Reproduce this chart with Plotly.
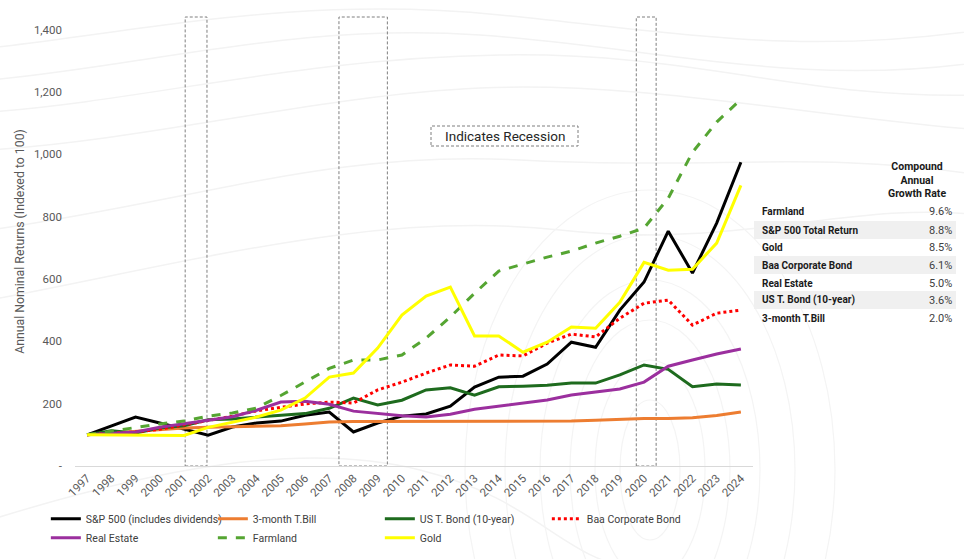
import plotly.graph_objects as go

# years on the x axis
years = list(range(1997, 2025))

# index values (1997 = 100)
sp500 = [100, 128, 157, 138, 118, 99, 125, 138, 144, 163, 173, 109, 138, 160, 167, 192,
         253, 285, 288, 327, 397, 381, 500, 590, 753, 619, 779, 974]
tbill = [100, 105, 110, 116, 122, 124, 125, 126, 129, 135, 141, 143, 143, 143, 143, 143,
         143, 143, 143, 143, 144, 147, 150, 152, 152, 155, 162, 173]
tbond = [100, 113, 106, 122, 129, 148, 151, 157, 162, 168, 185, 218, 196, 211, 244, 251,
         227, 254, 256, 259, 266, 266, 292, 324, 310, 254, 263, 260]
baa = [100, 106, 109, 118, 132, 146, 160, 177, 189, 199, 205, 202, 244, 269, 298, 324,
       320, 356, 353, 394, 423, 414, 474, 522, 532, 452, 490, 500]
real_estate = [100, 105, 109, 124, 135, 147, 158, 179, 205, 208, 198, 176, 169, 161, 157, 166,
               182, 192, 201, 212, 228, 237, 247, 269, 320, 340, 359, 375]
farmland = [100, 112, 122, 135, 144, 160, 170, 186, 226, 269, 313, 340, 340, 356, 410, 478,
            554, 625, 647, 670, 689, 715, 737, 763, 859, 1006, 1103, 1176]
gold = [100, 99, 99, 97, 98, 124, 141, 157, 179, 218, 285, 298, 378, 484, 545, 574,
        417, 417, 365, 397, 446, 442, 525, 653, 628, 631, 715, 900]

# recession periods (start, end) in year units
recessions = [(2001.05, 2001.95), (2007.4, 2009.4), (2019.68, 2020.5)]

# compound annual growth rate table
cagr_names = ["Farmland", "S&P 500 Total Return", "Gold", "Baa Corporate Bond",
              "Real Estate", "US T. Bond (10-year)", "3-month T.Bill"]
cagr_values = ["9.6%", "8.8%", "8.5%", "6.1%", "5.0%", "3.6%", "2.0%"]

series = [
    ("S&P 500 (includes dividends)", sp500, "#000000", "solid"),
    ("3-month T.Bill", tbill, "#ED7D31", "solid"),
    ("US T. Bond (10-year)", tbond, "#1E6B1E", "solid"),
    ("Baa Corporate Bond", baa, "#FF0000", "dot"),
    ("Real Estate", real_estate, "#9B2F9E", "solid"),
    ("Farmland", farmland, "#55A532", "dash"),
    ("Gold", gold, "#FFFF00", "solid"),
]

# plot area in pixels (for placing the side table)
L, R, T, B = 75, 753, 17, 466


def px_x(p):
    return (p - L) / (R - L)


def px_y(p):
    return (B - p) / (B - T)


def px_path(cmds):
    # cmds: list of (letter, [x, y, x, y, ...]) in pixels -> svg path in paper units
    out = []
    for letter, pts in cmds:
        xy = []
        for k in range(0, len(pts), 2):
            xy.append("%.4f,%.4f" % (px_x(pts[k]), px_y(pts[k + 1])))
        out.append(letter + " " + " ".join(xy))
    return " ".join(out)


fig = go.Figure()
for name, vals, color, dash in series:
    fig.add_trace(go.Scatter(
        x=years, y=vals, name=name, mode="lines",
        line=dict(color=color, width=3, dash=dash),
    ))

shapes = []

# faint background waves
waves = [
    [("M", [-10, 48]), ("C", [150, 30, 300, -5, 500, 15]), ("S", [800, 55, 980, 30])],
    [("M", [-10, 80]), ("C", [150, 65, 300, 22, 480, 35]), ("S", [800, 88, 980, 62])],
    [("M", [-10, 112]), ("C", [150, 100, 300, 58, 500, 55]), ("S", [800, 100, 980, 95])],
    [("M", [-10, 150]), ("C", [150, 140, 320, 95, 480, 88]), ("S", [800, 115, 980, 130])],
    [("M", [-10, 230]), ("C", [200, 200, 330, 150, 520, 160]), ("S", [820, 150, 980, 175])],
    [("M", [-10, 300]), ("C", [200, 260, 380, 210, 560, 230]), ("S", [850, 200, 980, 215])],
    [("M", [-10, 520]), ("C", [150, 470, 300, 440, 420, 470]), ("S", [560, 559, 640, 570])],
]
for w in waves:
    shapes.append(dict(type="path", xref="paper", yref="paper", path=px_path(w),
                       line=dict(color="#F3F3F3", width=1.5), layer="below"))
for rx, ry in [(30, 70), (55, 110), (80, 150), (110, 190), (145, 235), (185, 280)]:
    shapes.append(dict(type="circle", xref="paper", yref="paper",
                       x0=px_x(650 - rx), x1=px_x(650 + rx),
                       y0=px_y(470 + ry), y1=px_y(470 - ry),
                       line=dict(color="#F4F4F4", width=1.2), layer="below"))

box_line = dict(color="#7F7F7F", width=1, dash="3px,2px")
for x0, x1 in recessions:
    shapes.append(dict(type="rect", xref="x", yref="paper", x0=x0, x1=x1, y0=0, y1=1,
                       line=box_line, fillcolor="rgba(0,0,0,0)", layer="below"))

# "Indicates Recession" box
shapes.append(dict(type="rect", xref="paper", yref="paper",
                   x0=px_x(431), x1=px_x(578), y0=px_y(146), y1=px_y(126),
                   line=box_line, fillcolor="white"))

annotations = [dict(text="Indicates Recession", xref="paper", yref="paper",
                    x=px_x(504.5), y=px_y(135.5), xanchor="center", yanchor="middle",
                    showarrow=False, font=dict(size=13.5, color="#262626"))]

# CAGR table
annotations.append(dict(text="<b>Compound<br>Annual<br>Growth Rate</b>", xref="paper", yref="paper",
                        x=px_x(917), y=px_y(180), xanchor="center", yanchor="middle",
                        showarrow=False, align="center",
                        font=dict(size=10.5, color="#1a1a1a")))
row_y = [212, 230, 247.5, 265, 283, 300, 318]
for i in range(len(cagr_names)):
    yy = px_y(row_y[i])
    if i % 2 == 1:
        shapes.append(dict(type="rect", xref="paper", yref="paper",
                           x0=px_x(754), x1=px_x(956), y0=px_y(row_y[i] + 9), y1=px_y(row_y[i] - 9),
                           line=dict(width=0), fillcolor="#F0F0F0", layer="below"))
    annotations.append(dict(text="<b>" + cagr_names[i] + "</b>", xref="paper", yref="paper",
                            x=px_x(760), y=yy, xanchor="left", yanchor="middle", showarrow=False,
                            font=dict(size=10, color="#1a1a1a")))
    annotations.append(dict(text=cagr_values[i], xref="paper", yref="paper",
                            x=px_x(954), y=yy, xanchor="right", yanchor="middle", showarrow=False,
                            font=dict(size=11, color="#404040")))

fig.update_layout(
    width=964, height=559,
    margin=dict(l=L, r=964 - R, t=T, b=559 - B, autoexpand=False),
    paper_bgcolor="white", plot_bgcolor="rgba(0,0,0,0)",
    font=dict(family="Roboto", color="#595959"),
    shapes=shapes, annotations=annotations,
    legend=dict(orientation="h", x=-0.043, y=-0.085, xanchor="left", yanchor="top",
                entrywidth=122, font=dict(size=10.5, color="#404040"),
                tracegroupgap=0, itemwidth=30, bgcolor="rgba(0,0,0,0)"),
    xaxis=dict(range=[1996.5, 2024.5], tickmode="array", tickvals=years,
               ticktext=[str(y) for y in years], tickangle=-45, automargin=False,
               showgrid=False, zeroline=False, showline=True, linecolor="#D9D9D9",
               tickfont=dict(size=11.5, color="#595959")),
    yaxis=dict(range=[0, 1440], tickmode="array", tickvals=list(range(0, 1401, 200)),
               ticktext=["-", "200", "400", "600", "800", "1,000", "1,200", "1,400"],
               showgrid=False, zeroline=False, ticklabelstandoff=12, automargin=False,
               tickfont=dict(size=11.5, color="#595959"),
               title=dict(text="Annual Nominal Returns (Indexed to 100)", standoff=6,
                          font=dict(size=12.3, color="#595959"))),
)

fig.write_html("out.html", config={"displayModeBar": False},
               post_script="document.body.style.margin='0';")
